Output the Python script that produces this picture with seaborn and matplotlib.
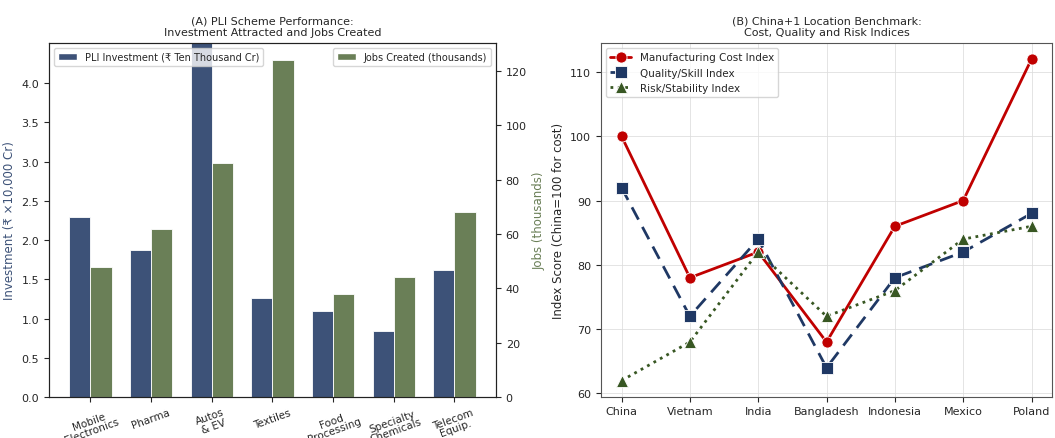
import numpy as np
import pandas as pd
import matplotlib
matplotlib.use("Agg")
import matplotlib.pyplot as plt
import seaborn as sns
from matplotlib.patches import Patch

# ---- data ----
sectors = ["Mobile\nElectronics", "Pharma", "Autos\n& EV", "Textiles",
           "Food\nProcessing", "Specialty\nChemicals", "Telecom\nEquip."]
investment = [2.29, 1.87, 4.60, 1.26, 1.09, 0.84, 1.62]
jobs = [48, 62, 86, 124, 38, 44, 68]

countries = ["China", "Vietnam", "India", "Bangladesh", "Indonesia", "Mexico", "Poland"]
cost_index = [100, 78, 82, 68, 86, 90, 112]
quality_index = [92, 72, 84, 64, 78, 82, 88]
risk_index = [62, 68, 82, 72, 76, 84, 86]

inv_label = "PLI Investment (₹ Ten Thousand Cr)"
jobs_label = "Jobs Created (thousands)"

C_INV = "#3d5278"
C_JOBS = "#6a7f57"
C_COST = "#c00000"
C_QUAL = "#1f3864"
C_RISK = "#385723"

sns.set_style("ticks")
plt.rcParams["font.family"] = ["DejaVu Sans"]

fig = plt.figure(figsize=(10.55, 4.39), dpi=100)
ax1 = fig.add_axes([0.0464, 0.0934, 0.4237, 0.8064])
ax3 = fig.add_axes([0.5697, 0.0941, 0.4275, 0.8057])

# ---- panel A ----
hue_order = [inv_label, jobs_label]
pal = {inv_label: C_INV, jobs_label: C_JOBS}
df_inv = pd.DataFrame({"sector": sectors, "value": investment, "series": inv_label})
df_jobs = pd.DataFrame({"sector": sectors, "value": jobs, "series": jobs_label})

sns.barplot(data=df_inv, x="sector", y="value", hue="series", hue_order=hue_order,
            palette=pal, width=0.7, dodge=True, ax=ax1, legend=False,
            edgecolor="white", linewidth=0.6, saturation=1)
ax2 = ax1.twinx()
sns.barplot(data=df_jobs, x="sector", y="value", hue="series", hue_order=hue_order,
            palette=pal, width=0.7, dodge=True, ax=ax2, legend=False,
            edgecolor="white", linewidth=0.6, saturation=1)

ax1.set_xlim(-0.685, 6.685)
ax1.set_ylim(0, 4.51)
ax1.set_yticks(np.arange(0, 4.01, 0.5))
ax1.set_yticklabels([f"{v:.1f}" for v in np.arange(0, 4.01, 0.5)])
ax2.set_ylim(0, 130.3)
ax2.set_yticks(np.arange(0, 121, 20))
ax1.set_xlabel("")
ax1.set_ylabel("Investment (₹ ×10,000 Cr)", color=C_INV, fontsize=8.5)
ax2.set_ylabel("Jobs (thousands)", color=C_JOBS, fontsize=8.5)
ax2.set_xlabel("")
ax1.tick_params(axis="y", labelsize=8)
ax2.tick_params(axis="y", labelsize=8)
ax1.tick_params(axis="x", labelsize=7.5)
plt.setp(ax1.get_xticklabels(), rotation=20, ha="center", linespacing=0.95)
for sp in ax2.spines.values():
    sp.set_visible(True)
    sp.set_color("#222222")
ax1.set_title("(A) PLI Scheme Performance:\nInvestment Attracted and Jobs Created",
              fontsize=8, pad=6)
ax1.legend(handles=[Patch(facecolor=C_INV, label=inv_label)], loc="upper left",
           fontsize=7, framealpha=0.8)
ax2.legend(handles=[Patch(facecolor=C_JOBS, label=jobs_label)], loc="upper right",
           fontsize=7, framealpha=0.8)

# ---- panel B ----
sns.lineplot(x=countries, y=cost_index, ax=ax3, color=C_COST, linestyle="-",
             marker="o", markersize=8, linewidth=2, label="Manufacturing Cost Index",
             markeredgecolor="white", markeredgewidth=0.6)
sns.lineplot(x=countries, y=quality_index, ax=ax3, color=C_QUAL, linestyle=(0, (5, 3)),
             marker="s", markersize=8, linewidth=2, label="Quality/Skill Index",
             markeredgecolor="white", markeredgewidth=0.6)
sns.lineplot(x=countries, y=risk_index, ax=ax3, color=C_RISK, linestyle=":",
             marker="^", markersize=8, linewidth=2, label="Risk/Stability Index",
             markeredgecolor="white", markeredgewidth=0.6)
ax3.grid(True, color="#dddddd", linewidth=0.7, alpha=0.8)
ax3.set_ylabel("Index Score (China=100 for cost)", fontsize=8.5)
ax3.set_xlabel("")
ax3.tick_params(labelsize=8)
for sp in ax3.spines.values():
    sp.set_color("#555555")
ax3.set_title("(B) China+1 Location Benchmark:\nCost, Quality and Risk Indices",
              fontsize=8, pad=6)
ax3.legend(loc="upper left", fontsize=7.5, framealpha=0.8)

fig.savefig("out.png", dpi=100)
